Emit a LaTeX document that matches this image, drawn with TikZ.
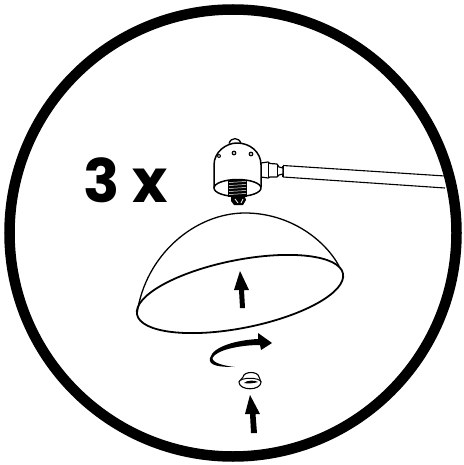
\documentclass[tikz,border=0pt]{standalone}
\usepackage{fontspec}
\setmainfont{Poppins}
\tikzset{
  lamp/.style={draw=black,line width=1.5pt,fill=white,line join=round},
  thin line/.style={draw=black,line width=1.1pt},
  solid arrow/.style={fill=black,draw=none},
  label big/.style={font=\bfseries\fontsize{60}{60}\selectfont,inner sep=0pt,anchor=base}
}
\begin{document}
\begin{tikzpicture}[x=1pt,y=-1pt]
\useasboundingbox (0,0) rectangle (463,465);
\fill[white] (0,0) rectangle (463,465);
% ring
\node[circle,draw=black,line width=10.5pt,minimum size=447pt,inner sep=0pt] (ring) at (233,233) {};
% label
\node[label big] (lbl) at (126,202) {3 x};
% arm
\draw[thin line] (283,165.5) -- (445,176);
\draw[thin line] (283,177) -- (445,188);
\draw[thin line] (283,165.5) -- (283,177);
\draw[lamp,line width=1.2pt] (261,163) -- (268,162) -- (270,163.5) -- (277,164) -- (279,167) -- (283,168) -- (283,174) -- (279,175) -- (277,177) -- (270,177) -- (268,178) -- (261,177) -- cycle;
\draw[lamp,line width=.9pt] (268,162) -- (268,178) (277,164) -- (277,177);
% head
\draw[lamp,line width=1.3pt] (229,143.5) .. controls (231,137) and (239,137) .. (241,143.5);
\draw[lamp] (214,188) -- (214,165) .. controls (214,152) and (226,143) .. (237,143) .. controls (250,143) and (261,152) .. (261,165) -- (261,187);
\draw[lamp] (237.5,188) ellipse [x radius=23.5,y radius=8.5];
\fill (219,156) circle (2);
\fill[white] (219,156) circle (0.8);
\fill (234,153) circle (2.4);
\fill[white] (234,153) circle (1.1);
\fill (251,154) circle (2.4);
\fill[white] (251,154) circle (1.1);
% screw
\fill (228,180) rectangle (247,197);
\foreach \yy in {182.5,185.5,188.5,191.5,194.5} \draw[white,line width=.5pt] (229,\yy) -- (246,\yy-1);
\fill (231,197) -- (245,197) -- (246,200) -- (243,205) -- (234,205) -- (231,201) -- cycle;
\draw[white,line width=.8pt] (235,199) -- (238,203) (243,199) -- (241,203);
% shade
\draw[lamp,line width=1.3pt] (137,314) .. controls (145,255) and (195,213) .. (245,213) .. controls (290,213) and (325,240) .. (339,266);
\draw[draw=black,line width=1.8pt,rotate around={11.2:(240,294)}] (240,294) ellipse [x radius=105,y radius=34];
% arrow in shade
\fill[solid arrow] (240,308) -- (239,290) -- (234,290) -- (240,271) -- (249,290) -- (244,290) -- (245,308) -- cycle;
% curved arrow
\fill[solid arrow] (235,367) .. controls (220,367) and (208,366) .. (210,358) .. controls (213,346) and (238,340) .. (258,339) -- (258,333) -- (272,343) -- (261,350) -- (260,345) .. controls (240,345) and (216,350) .. (212.5,358) .. controls (212,363) and (225,366) .. (235,367) -- cycle;
% cap
\draw[lamp,line width=1.1pt] (243,377) .. controls (244,371) and (258,371) .. (259,377) -- (261,382) .. controls (261,391) and (239,391) .. (239,382) -- cycle;
\draw[lamp,line width=1pt] (239,382) .. controls (240,377) and (260,377) .. (261,382);
\fill (244,383) .. controls (247,380) and (255,380) .. (258,382) .. controls (255,383) and (248,384) .. (244,383) -- cycle;
% lower arrow
\fill[solid arrow] (251,433) -- (250,414) -- (245,414) -- (250,395) -- (260,414) -- (255.5,414) -- (257,433) -- cycle;
\end{tikzpicture}
\end{document}
